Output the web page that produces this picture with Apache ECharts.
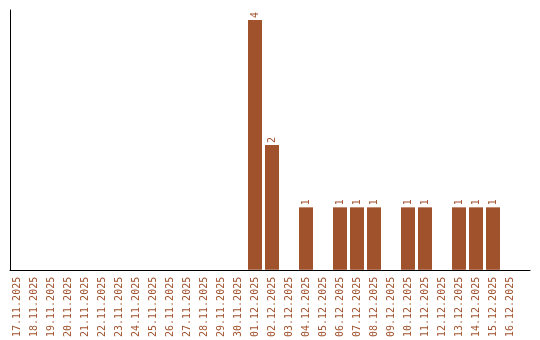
<!DOCTYPE html>
<html><head><meta charset="utf-8">
<script src="https://cdn.jsdelivr.net/npm/echarts@6/dist/echarts.min.js"></script>
<style>html,body{margin:0;padding:0;background:#fff}#c{width:540px;height:340px}</style>
</head><body><div id="c"></div>
<script>
const categories = ["17.11.2025","18.11.2025","19.11.2025","20.11.2025","21.11.2025","22.11.2025","23.11.2025","24.11.2025","25.11.2025","26.11.2025","27.11.2025","28.11.2025","29.11.2025","30.11.2025","01.12.2025","02.12.2025","03.12.2025","04.12.2025","05.12.2025","06.12.2025","07.12.2025","08.12.2025","09.12.2025","10.12.2025","11.12.2025","12.12.2025","13.12.2025","14.12.2025","15.12.2025","16.12.2025"];
const counts = [0,0,0,0,0,0,0,0,0,0,0,0,0,0,4,2,0,1,0,1,1,1,0,1,1,0,1,1,1,0];
const color = '#a0522d';
const font = 'DejaVu Sans Mono';
const chart = echarts.init(document.getElementById('c'), null, {renderer:'canvas'});
chart.setOption({
  animation:false,
  grid:[
    {left:8.5, right:21.5, top:10, bottom:70, containLabel:false},
    {left:10, right:10, top:10, bottom:70, containLabel:false}
  ],
  xAxis:[
    {type:'category', gridIndex:0, data:categories,
     axisLine:{show:false}, axisTick:{show:false},
     axisLabel:{rotate:90, color:color, fontFamily:font, fontSize:10, margin:7, interval:0}},
    {type:'value', gridIndex:1, min:0, max:1,
     axisLine:{show:true, onZero:false, lineStyle:{color:'#000', width:1}},
     axisTick:{show:false}, axisLabel:{show:false}, splitLine:{show:false}}
  ],
  yAxis:[
    {type:'value', gridIndex:0, min:0, max:4.16,
     axisLine:{show:false}, axisTick:{show:false}, axisLabel:{show:false}, splitLine:{show:false}},
    {type:'value', gridIndex:1, min:0, max:1,
     axisLine:{show:true, onZero:false, lineStyle:{color:'#000', width:1}},
     axisTick:{show:false}, axisLabel:{show:false}, splitLine:{show:false}}
  ],
  series:[{
    type:'bar', xAxisIndex:0, yAxisIndex:0, data:counts,
    barWidth:14,
    itemStyle:{color:color},
    label:{show:true, position:'top', rotate:90, align:'left', verticalAlign:'middle',
      distance:2, color:color, fontFamily:font, fontSize:10,
      formatter:p=>p.value>0?String(p.value):''}
  }]
});
</script></body></html>
